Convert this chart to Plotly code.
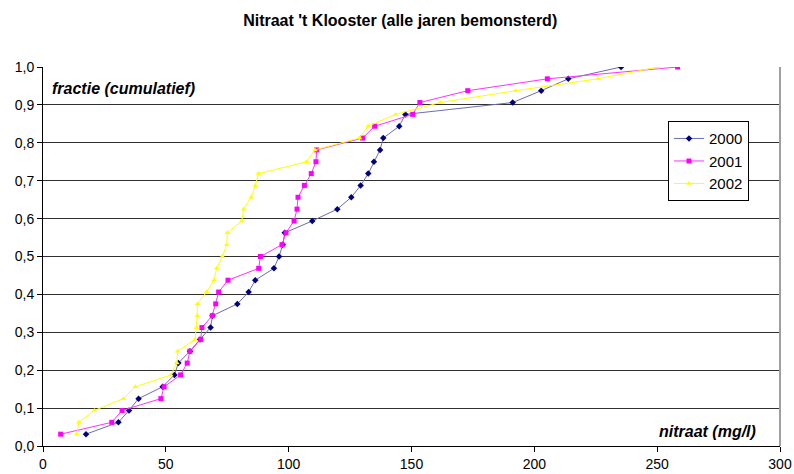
import plotly.graph_objects as go

fractie = [0.03125, 0.0625, 0.09375, 0.125, 0.15625, 0.1875, 0.21875, 0.25,
           0.28125, 0.3125, 0.34375, 0.375, 0.40625, 0.4375, 0.46875, 0.5,
           0.53125, 0.5625, 0.59375, 0.625, 0.65625, 0.6875, 0.71875, 0.75,
           0.78125, 0.8125, 0.84375, 0.875, 0.90625, 0.9375, 0.96875, 1.0]

nitraat_2000 = [17.5, 30.7, 35.0, 38.9, 48.7, 53.5, 55.1, 59.8, 63.9, 68.2, 69.0,
                79.1, 83.7, 86.4, 94.0, 96.1, 97.6, 98.4, 109.6, 119.8, 125.5,
                129.3, 132.4, 134.7, 137.2, 138.5, 145.0, 147.5, 191.2, 202.8,
                213.8, 235.3]
nitraat_2001 = [7.2, 28.0, 32.2, 48.0, 49.3, 56.0, 58.7, 59.8, 64.2, 64.7, 68.9,
                70.3, 71.5, 75.3, 87.8, 88.5, 97.3, 98.9, 102.2, 103.4, 103.8,
                106.4, 109.2, 111.1, 111.4, 130.1, 135.0, 150.5, 153.4, 172.9,
                205.3, 258.3]
nitraat_2002 = [13.7, 14.6, 20.9, 32.7, 37.6, 52.0, 54.5, 54.8, 61.9, 62.5, 62.8,
                62.8, 66.6, 69.6, 70.7, 73.0, 74.8, 75.0, 80.9, 81.7, 84.7, 86.4,
                87.7, 107.3, 110.7, 128.8, 132.4, 143.5, 161.7, 192.4, 225.9, 250.5]

x_ticks = [0, 50, 100, 150, 200, 250, 300]
y_ticks = [0.0, 0.1, 0.2, 0.3, 0.4, 0.5, 0.6, 0.7, 0.8, 0.9, 1.0]

FONT = "Liberation Sans, Arial, sans-serif"

fig = go.Figure()
fig.add_trace(go.Scatter(x=nitraat_2000, y=fractie, name="2000", mode="lines+markers",
                         line=dict(color="#6c6cb4", width=1),
                         marker=dict(symbol="diamond", size=5, color="#000080")))
fig.add_trace(go.Scatter(x=nitraat_2001, y=fractie, name="2001", mode="lines+markers",
                         line=dict(color="#ff33ff", width=1),
                         marker=dict(symbol="square", size=5, color="#ff00ff")))
fig.add_trace(go.Scatter(x=nitraat_2002, y=fractie, name="2002", mode="lines+markers",
                         line=dict(color="#ffff00", width=1),
                         marker=dict(symbol="triangle-up", size=5, color="#ffff00")))

fig.update_layout(
    width=794, height=474,
    margin=dict(l=43, r=14, t=67, b=28, autoexpand=False),
    paper_bgcolor="white", plot_bgcolor="white",
    separators=",.",
    font=dict(family=FONT, size=14, color="black"),
    title=dict(text="<b>Nitraat 't Klooster (alle jaren bemonsterd)</b>",
               x=0.504, xanchor="center", y=0.958, yanchor="middle",
               font=dict(family=FONT, size=16)),
    xaxis=dict(range=[0, 300], tickvals=x_ticks, showgrid=False, zeroline=False,
               showline=True, linecolor="black", linewidth=1, mirror=False,
               ticks="outside", ticklen=5, tickcolor="black", automargin=False,
               tickfont=dict(size=14)),
    yaxis=dict(range=[0, 1.0], tickvals=y_ticks, tickformat=".1f",
               showgrid=True, gridcolor="#303030", gridwidth=1, zeroline=False,
               showline=True, linecolor="black", linewidth=1, automargin=False,
               ticks="outside", ticklen=5, tickcolor="black",
               tickfont=dict(size=14)),
    legend=dict(x=0.848, y=0.857, xanchor="left", yanchor="top",
                bordercolor="black", borderwidth=1, bgcolor="white",
                font=dict(size=15), itemwidth=30, tracegroupgap=2),
    showlegend=True,
    annotations=[
        dict(text="<b><i>fractie (cumulatief)</i></b>", xref="paper", yref="paper",
             x=0.01, y=0.943, xanchor="left", yanchor="middle", showarrow=False,
             font=dict(size=16)),
        dict(text="<b><i>nitraat (mg/l)</i></b>", xref="paper", yref="paper",
             x=0.97, y=0.037, xanchor="right", yanchor="middle", showarrow=False,
             font=dict(size=16)),
    ],
    shapes=[dict(type="line", xref="paper", yref="paper", x0=1, x1=1, y0=0, y1=1,
                 line=dict(color="#a0a0a0", width=2))],
)

fig.write_html("out.html")
